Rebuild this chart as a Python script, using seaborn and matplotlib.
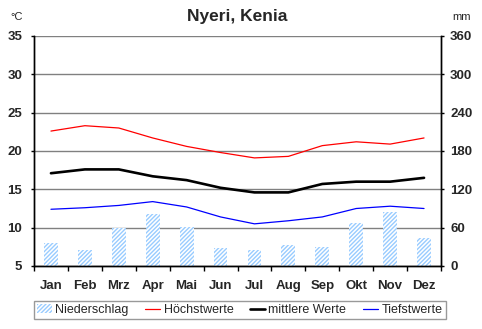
import numpy as np
import matplotlib
matplotlib.use("Agg")
import matplotlib.pyplot as plt
import seaborn as sns
from matplotlib.patches import Patch
from matplotlib.lines import Line2D

months = ["Jan", "Feb", "Mrz", "Apr", "Mai", "Jun", "Jul", "Aug", "Sep", "Okt", "Nov", "Dez"]
precip = [36, 25, 59, 82, 61, 28, 25, 33, 30, 67, 85, 44]
t_max = [22.6, 23.3, 23.0, 21.7, 20.6, 19.8, 19.1, 19.3, 20.7, 21.2, 20.9, 21.7]
t_mean = [17.1, 17.6, 17.6, 16.7, 16.2, 15.2, 14.6, 14.6, 15.7, 16.0, 16.0, 16.5]
t_min = [12.4, 12.6, 12.9, 13.4, 12.7, 11.4, 10.5, 10.9, 11.4, 12.5, 12.8, 12.5]
temp_ticks = [5, 10, 15, 20, 25, 30, 35]
mm_ticks = [0, 60, 120, 180, 240, 300, 360]

sns.set_style("white")
plt.rcParams["font.family"] = ["Liberation Sans", "DejaVu Sans"]
plt.rcParams["hatch.linewidth"] = 1.0

W, H = 482, 329
fig = plt.figure(figsize=(W / 100, H / 100), dpi=100)
L, R, T, B = 34, 441, 36, 266
ax_mm = fig.add_axes([L / W, 1 - B / H, (R - L) / W, (B - T) / H])
ax_t = ax_mm.twinx()

x = np.arange(len(months))

# bars (precipitation) on mm axis
sns.barplot(x=x, y=precip, ax=ax_mm, width=0.41, color="white",
            edgecolor="#99CCFF", hatch="////////", linewidth=0, native_scale=True)
ax_mm.set_ylim(0, 360)
ax_mm.set_yticks(mm_ticks)
ax_mm.yaxis.tick_right()
ax_mm.set_axisbelow(True)
for yv in mm_ticks:
    ax_mm.axhline(yv, color="#808080", lw=1.0, zorder=0)

# temperature lines
sns.lineplot(x=x, y=t_max, ax=ax_t, color="#FF0000", lw=0.9)
sns.lineplot(x=x, y=t_mean, ax=ax_t, color="black", lw=1.9)
sns.lineplot(x=x, y=t_min, ax=ax_t, color="#0000FF", lw=0.9)
ax_t.set_ylim(5, 35)
ax_t.set_yticks(temp_ticks)
ax_t.yaxis.tick_left()
ax_t.yaxis.set_label_position("left")

for a in (ax_mm, ax_t):
    a.set_xlim(-0.5, 11.5)
    a.set_ylabel("")
    a.set_xlabel("")
    a.spines["top"].set_visible(False)
    for s in ("left", "right", "bottom"):
        a.spines[s].set_color("black")
        a.spines[s].set_linewidth(1.0)

ax_mm.set_xticks(np.arange(-0.5, 12, 1))
ax_mm.set_xticklabels([])
ax_mm.set_xticks(x, minor=True)
ax_mm.set_xticklabels(months, minor=True, fontsize=9.5, fontweight="bold")
ax_mm.tick_params(axis="x", which="major", direction="out", length=3.5, width=1, color="black", bottom=True)
ax_mm.tick_params(axis="x", which="minor", length=0, pad=10)
ax_mm.tick_params(axis="y", direction="out", length=2.5, width=1, color="black", right=True, left=False,
                  labelsize=9.5, pad=4)
for lab in ax_mm.get_yticklabels():
    lab.set_fontweight("bold")
ax_t.tick_params(axis="y", direction="out", length=2.5, width=1, color="black", left=True, right=False,
                 labelsize=9.5, pad=6)
for lab in ax_t.get_yticklabels():
    lab.set_fontweight("bold")
ax_t.tick_params(axis="x", bottom=False, labelbottom=False)

fig.text(237 / W, 1 - 17 / H, "Nyeri, Kenia", ha="center", va="center", fontsize=12.5, fontweight="bold")
fig.text(10 / W, 1 - 17 / H, "°C", ha="left", va="center", fontsize=8)
fig.text(471 / W, 1 - 17 / H, "mm", ha="right", va="center", fontsize=8)

handles = [
    Patch(facecolor="white", edgecolor="#99CCFF", hatch="////////", linewidth=0),
    Line2D([], [], color="#FF0000", lw=0.9),
    Line2D([], [], color="black", lw=1.9),
    Line2D([], [], color="#0000FF", lw=0.9),
]
labels = ["Niederschlag", "Höchstwerte", "mittlere Werte", "Tiefstwerte"]
leg = fig.legend(handles, labels, loc="center", bbox_to_anchor=(239.5 / W, 1 - 310 / H), ncol=4,
                 fontsize=9, frameon=True, fancybox=False, edgecolor="#808080",
                 handlelength=1.2, handletextpad=0.3, columnspacing=1.3, borderpad=0.25,
                 handleheight=0.7)
leg.get_frame().set_linewidth(1.0)

fig.savefig("out.png", dpi=100)
